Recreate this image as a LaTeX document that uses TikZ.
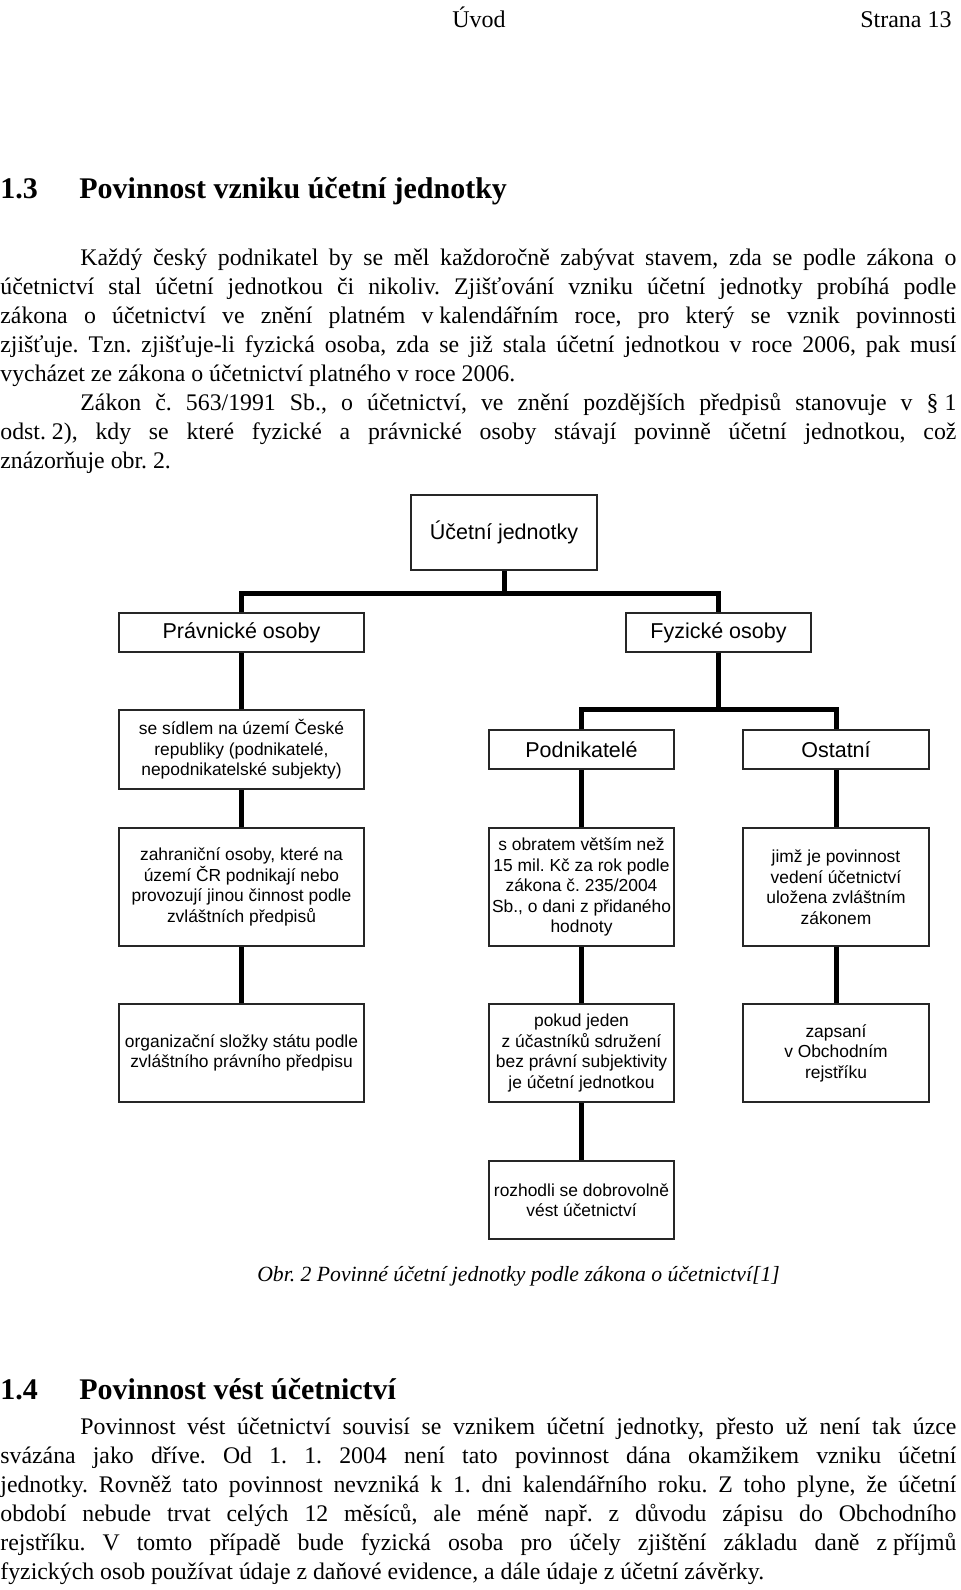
\documentclass[tikz,border=0pt]{standalone}
\usepackage{fontspec}
\setmainfont{Liberation Serif}
\setsansfont{Liberation Sans}
\frenchspacing
\hyphenpenalty=10000
\exhyphenpenalty=10000

\tikzset{
  unit/.style={draw=black!85, line width=1pt, inner sep=0pt, align=center,
    font=\sffamily\fontsize{10.75}{13}\selectfont},
  note/.style={unit, font=\sffamily\fontsize{8.7}{10.25}\selectfont},
  link/.style={line width=2.5pt},
  bodytext/.style={anchor=base west, inner sep=0pt, text width=478pt, align=justify,
    font=\fontsize{11.9}{14.5}\selectfont},
  headtext/.style={anchor=base west, inner sep=0pt,
    font=\bfseries\fontsize{15}{17}\selectfont}
}
\newcommand{\parstart}{\leavevmode\kern40pt\ignorespaces}

\begin{document}
\begin{tikzpicture}[x=0.5pt, y=-0.5pt]
\path[use as bounding box, fill=white] (0,0) rectangle (960,1590);

% page header
\node[anchor=base, inner sep=0pt, font=\fontsize{12}{14}\selectfont] (hdr) at (479,27) {Úvod};
\node[anchor=base east, inner sep=0pt, font=\fontsize{12}{14}\selectfont] (pagenum) at (952,27) {Strana 13};

% section 1.3
\node[headtext] (num13) at (0,198) {1.3};
\node[headtext] (head13) at (79,198) {Povinnost vzniku účetní jednotky};
\node[bodytext] (par13a) at (0,265) {\parstart Každý český podnikatel by se měl každoročně zabývat stavem, zda se podle zákona o\linebreak
účetnictví stal účetní jednotkou či nikoliv. Zjišťování vzniku účetní jednotky probíhá podle\linebreak
zákona o účetnictví ve znění platném v\kern.25em kalendářním roce, pro který se vznik povinnosti\linebreak
zjišťuje. Tzn. zjišťuje-li fyzická osoba, zda se již stala účetní jednotkou v roce 2006, pak musí\linebreak
vycházet ze zákona o účetnictví platného v roce 2006.};
\node[bodytext] (par13b) at (0,410) {\parstart Zákon č. 563/1991 Sb., o účetnictví, ve znění pozdějších předpisů stanovuje v §\kern.25em 1\linebreak
odst.\kern.25em 2), kdy se které fyzické a právnické osoby stávají povinně účetní jednotkou, což\linebreak
znázorňuje obr. 2.};

% diagram
\node[unit, minimum width=93pt, minimum height=37.5pt] (ucet) at (504,532.5) {Účetní jednotky};
\node[unit, minimum width=122.5pt, minimum height=19.5pt] (prav) at (241.5,632.5) {Právnické osoby};
\node[unit, minimum width=92.5pt, minimum height=19.5pt] (fyz) at (718.5,632.5) {Fyzické osoby};

\node[note, minimum width=122.5pt, minimum height=39.5pt] (sidlo) at (241.5,749.5)
  {se sídlem na území České\\republiky (podnikatelé,\\nepodnikatelské subjekty)};
\node[unit, minimum width=92.5pt, minimum height=19.5pt] (podn) at (581.5,749.5) {Podnikatelé};
\node[unit, minimum width=93pt, minimum height=19.5pt] (ostat) at (836,749.5) {Ostatní};

\node[note, minimum width=122.5pt, minimum height=59pt] (zahr) at (241.5,887)
  {zahraniční osoby, které na\\území ČR podnikají nebo\\provozují jinou činnost podle\\zvláštních předpisů};
\node[note, minimum width=92.5pt, minimum height=59pt] (obrat) at (581.5,887)
  {s obratem větším než\\15 mil. Kč za rok podle\\zákona č. 235/2004\\Sb., o dani z přidaného\\hodnoty};
\node[note, minimum width=93pt, minimum height=59pt] (zakon) at (836,887)
  {jimž je povinnost\\vedení účetnictví\\uložena zvláštním\\zákonem};

\node[note, minimum width=122.5pt, minimum height=49pt] (orgst) at (241.5,1053)
  {organizační složky státu podle\\zvláštního právního předpisu};
\node[note, minimum width=92.5pt, minimum height=49pt] (sdruz) at (581.5,1053)
  {pokud jeden\\z účastníků sdružení\\bez právní subjektivity\\je účetní jednotkou};
\node[note, minimum width=93pt, minimum height=49pt] (rejst) at (836,1053)
  {zapsaní\\v Obchodním\\rejstříku};

\node[note, minimum width=92.5pt, minimum height=39pt] (dobro) at (581.5,1200)
  {rozhodli se dobrovolně\\vést účetnictví};

\coordinate (fork1) at (504,593);
\coordinate (fork2) at (718.5,709);
\draw[link] (ucet) -- (fork1) -| (prav);
\draw[link] (fork1) -| (fyz);
\draw[link] (fyz) -- (fork2) -| (podn);
\draw[link] (fork2) -| (ostat);
\draw[link] (prav) -- (sidlo);
\draw[link] (sidlo) -- (zahr);
\draw[link] (zahr) -- (orgst);
\draw[link] (podn) -- (obrat);
\draw[link] (obrat) -- (sdruz);
\draw[link] (sdruz) -- (dobro);
\draw[link] (ostat) -- (zakon);
\draw[link] (zakon) -- (rejst);

\node[inner sep=0pt, font=\itshape\fontsize{10.85}{13}\selectfont] (caption) at (518.5,1276)
  {Obr. 2 Povinné účetní jednotky podle zákona o účetnictví[1]};

% section 1.4
\node[headtext] (num14) at (0,1399) {1.4};
\node[headtext] (head14) at (79,1399) {Povinnost vést účetnictví};
\node[bodytext] (par14) at (0,1434) {\parstart Povinnost vést účetnictví souvisí se vznikem účetní jednotky, přesto už není tak úzce\linebreak
svázána jako dříve. Od 1. 1. 2004 není tato povinnost dána okamžikem vzniku účetní\linebreak
jednotky. Rovněž tato povinnost nevzniká k 1. dni kalendářního roku. Z toho plyne, že účetní\linebreak
období nebude trvat celých 12 měsíců, ale méně např. z důvodu zápisu do Obchodního\linebreak
rejstříku. V tomto případě bude fyzická osoba pro účely zjištění základu daně z\kern.25em příjmů\linebreak
fyzických osob používat údaje z daňové evidence, a dále údaje z účetní závěrky.};
\end{tikzpicture}
\end{document}
